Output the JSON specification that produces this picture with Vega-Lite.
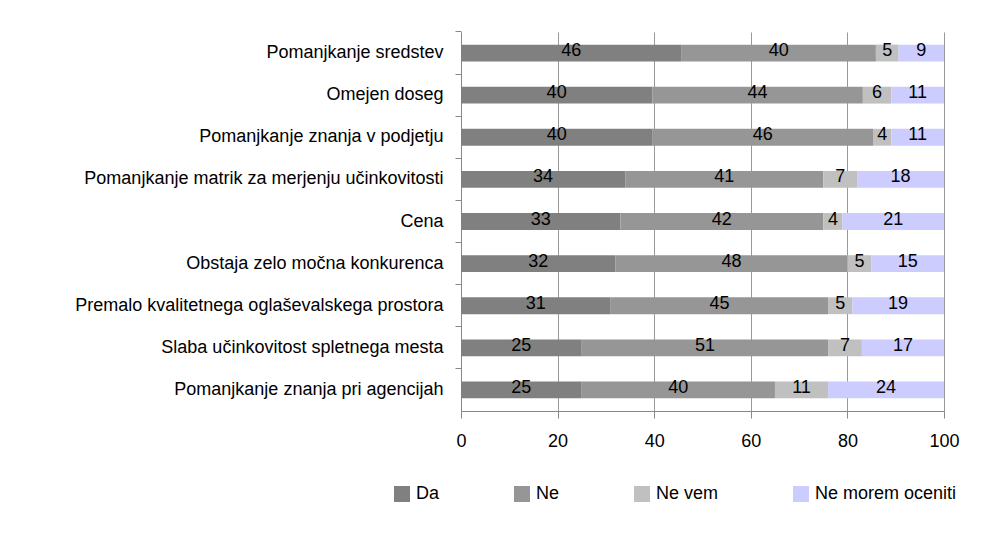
{
  "$schema": "https://vega.github.io/schema/vega-lite/v6.json",
  "autosize": {"type": "none"},
  "padding": {"left": 461, "top": 32, "right": 49, "bottom": 124},
  "width": 483,
  "height": 379,
  "background": "white",
  "config": {
    "font": "Liberation Sans",
    "view": {"stroke": null},
    "axis": {"labelFont": "Liberation Sans", "labelFontSize": 18, "labelColor": "#000000"},
    "legend": {"labelFont": "Liberation Sans", "labelFontSize": 18, "labelColor": "#000000"}
  },
  "data": {"values": [
    {"cat": "Pomanjkanje sredstev", "series": "Da", "k": 1, "v": 45.7},
    {"cat": "Pomanjkanje sredstev", "series": "Ne", "k": 2, "v": 40.2},
    {"cat": "Pomanjkanje sredstev", "series": "Ne vem", "k": 3, "v": 4.7},
    {"cat": "Pomanjkanje sredstev", "series": "Ne morem oceniti", "k": 4, "v": 9.4},
    {"cat": "Omejen doseg", "series": "Da", "k": 1, "v": 39.6},
    {"cat": "Omejen doseg", "series": "Ne", "k": 2, "v": 43.6},
    {"cat": "Omejen doseg", "series": "Ne vem", "k": 3, "v": 5.9},
    {"cat": "Omejen doseg", "series": "Ne morem oceniti", "k": 4, "v": 10.9},
    {"cat": "Pomanjkanje znanja v  podjetju", "series": "Da", "k": 1, "v": 39.7},
    {"cat": "Pomanjkanje znanja v  podjetju", "series": "Ne", "k": 2, "v": 45.6},
    {"cat": "Pomanjkanje znanja v  podjetju", "series": "Ne vem", "k": 3, "v": 3.8},
    {"cat": "Pomanjkanje znanja v  podjetju", "series": "Ne morem oceniti", "k": 4, "v": 10.9},
    {"cat": "Pomanjkanje matrik za merjenju učinkovitosti", "series": "Da", "k": 1, "v": 34},
    {"cat": "Pomanjkanje matrik za merjenju učinkovitosti", "series": "Ne", "k": 2, "v": 41},
    {"cat": "Pomanjkanje matrik za merjenju učinkovitosti", "series": "Ne vem", "k": 3, "v": 7},
    {"cat": "Pomanjkanje matrik za merjenju učinkovitosti", "series": "Ne morem oceniti", "k": 4, "v": 18},
    {"cat": "Cena", "series": "Da", "k": 1, "v": 33},
    {"cat": "Cena", "series": "Ne", "k": 2, "v": 42},
    {"cat": "Cena", "series": "Ne vem", "k": 3, "v": 4},
    {"cat": "Cena", "series": "Ne morem oceniti", "k": 4, "v": 21},
    {"cat": "Obstaja zelo močna konkurenca", "series": "Da", "k": 1, "v": 32},
    {"cat": "Obstaja zelo močna konkurenca", "series": "Ne", "k": 2, "v": 48},
    {"cat": "Obstaja zelo močna konkurenca", "series": "Ne vem", "k": 3, "v": 5},
    {"cat": "Obstaja zelo močna konkurenca", "series": "Ne morem oceniti", "k": 4, "v": 15},
    {"cat": "Premalo kvalitetnega oglaševalskega prostora", "series": "Da", "k": 1, "v": 31},
    {"cat": "Premalo kvalitetnega oglaševalskega prostora", "series": "Ne", "k": 2, "v": 45},
    {"cat": "Premalo kvalitetnega oglaševalskega prostora", "series": "Ne vem", "k": 3, "v": 5},
    {"cat": "Premalo kvalitetnega oglaševalskega prostora", "series": "Ne morem oceniti", "k": 4, "v": 19},
    {"cat": "Slaba učinkovitost spletnega mesta", "series": "Da", "k": 1, "v": 25},
    {"cat": "Slaba učinkovitost spletnega mesta", "series": "Ne", "k": 2, "v": 51},
    {"cat": "Slaba učinkovitost spletnega mesta", "series": "Ne vem", "k": 3, "v": 7},
    {"cat": "Slaba učinkovitost spletnega mesta", "series": "Ne morem oceniti", "k": 4, "v": 17},
    {"cat": "Pomanjkanje znanja pri agencijah", "series": "Da", "k": 1, "v": 25},
    {"cat": "Pomanjkanje znanja pri agencijah", "series": "Ne", "k": 2, "v": 40},
    {"cat": "Pomanjkanje znanja pri agencijah", "series": "Ne vem", "k": 3, "v": 11},
    {"cat": "Pomanjkanje znanja pri agencijah", "series": "Ne morem oceniti", "k": 4, "v": 24}
  ]},
  "resolve": {"axis": {"y": "independent"}},
  "layer": [
    {
      "mark": {"type": "bar", "orient": "horizontal"},
      "encoding": {
        "y": {
          "field": "cat", "type": "nominal", "sort": null,
          "scale": {"paddingInner": 0.6, "paddingOuter": 0.3},
          "axis": {"title": null, "orient": "left", "ticks": false, "tickSize": 0, "labelPadding": 18, "domain": true, "domainColor": "#888888", "labelLimit": 500, "grid": false}
        },
        "x": {
          "field": "v", "type": "quantitative", "stack": "zero",
          "scale": {"domain": [0, 100], "nice": false},
          "axis": {"title": null, "values": [0, 20, 40, 60, 80, 100], "grid": true, "gridColor": "#999999", "gridOpacity": 1, "domainColor": "#888888", "tickColor": "#888888", "tickSize": 7, "labelPadding": 14, "labelFlush": false}
        },
        "color": {
          "field": "series", "type": "nominal",
          "scale": {"domain": ["Da", "Ne", "Ne vem", "Ne morem oceniti"], "range": ["#808080", "#969696", "#c0c0c0", "#ccccff"]},
          "legend": {"title": null, "orient": "none", "direction": "horizontal", "legendX": -68, "legendY": 453, "symbolType": "square", "symbolSize": 256, "symbolStrokeWidth": 0, "symbolOpacity": 1, "labelOffset": 5, "columnPadding": 73, "padding": 0}
        },
        "order": {"field": "k", "type": "quantitative"}
      }
    },
    {
      "mark": {"type": "text", "fontSize": 18, "color": "#000000", "font": "Liberation Sans", "dy": -2},
      "encoding": {
        "y": {
          "field": "cat", "type": "nominal", "sort": null,
          "axis": {"title": null, "orient": "left", "labels": false, "domain": false, "ticks": true, "tickSize": 6, "tickColor": "#888888", "bandPosition": -0.75, "grid": false}
        },
        "x": {"field": "v", "type": "quantitative", "stack": "zero", "bandPosition": 0.5},
        "text": {"field": "v", "type": "quantitative", "format": ".0f"},
        "order": {"field": "k", "type": "quantitative"},
        "detail": {"field": "series", "type": "nominal"}
      }
    }
  ]
}
